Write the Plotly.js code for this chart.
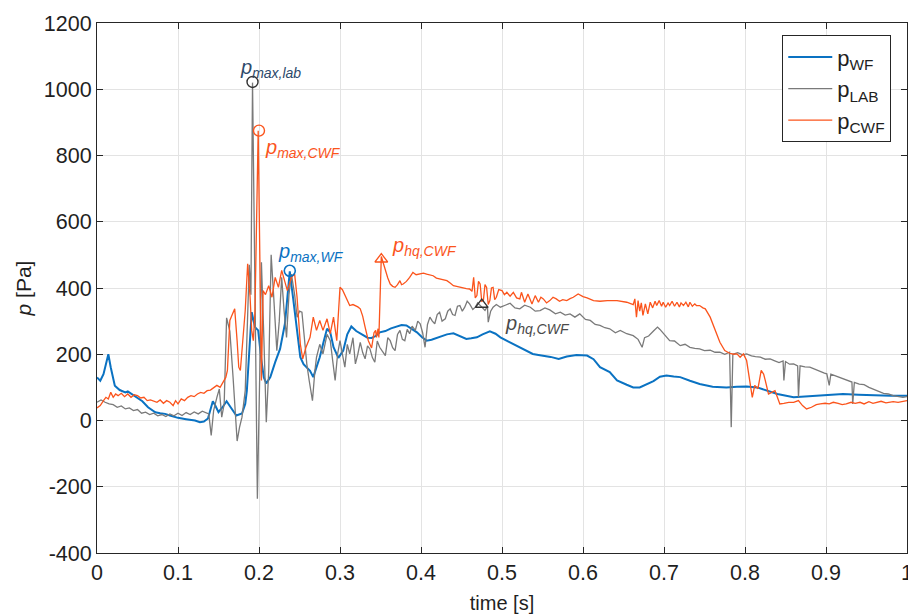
<!DOCTYPE html>
<html><head><meta charset="utf-8">
<script src="https://cdn.plot.ly/plotly-3.0.1.min.js"></script>
<style>html,body{margin:0;padding:0;background:#fff}#chart{width:908px;height:614px}</style>
</head><body><div id="chart"></div>
<script>
// ---- data (time in s, pressure in Pa) ----
const tWF = [0.000,0.004,0.008,0.011,0.014,0.017,0.022,0.028,0.035,0.038,0.044,0.050,0.056,0.063,0.068,0.072,0.078,0.084,0.090,0.100,0.110,0.121,0.127,0.132,0.137,0.140,0.143,0.146,0.150,0.155,0.160,0.165,0.172,0.179,0.183,0.185,0.188,0.191,0.195,0.199,0.203,0.206,0.209,0.214,0.220,0.226,0.232,0.235,0.238,0.242,0.247,0.251,0.255,0.259,0.263,0.267,0.271,0.275,0.280,0.284,0.288,0.292,0.298,0.304,0.309,0.314,0.320,0.325,0.329,0.334,0.339,0.344,0.349,0.356,0.363,0.370,0.376,0.382,0.388,0.395,0.401,0.407,0.413,0.419,0.425,0.432,0.440,0.448,0.456,0.462,0.469,0.476,0.485,0.492,0.498,0.508,0.518,0.528,0.538,0.545,0.553,0.560,0.570,0.580,0.592,0.605,0.613,0.621,0.633,0.642,0.654,0.662,0.670,0.678,0.687,0.695,0.703,0.712,0.720,0.732,0.744,0.760,0.777,0.790,0.802,0.815,0.827,0.840,0.860,0.872,0.884,0.900,0.921,0.940,0.963,0.980,1.000];
const pWF = [130,120,140,175,200,160,105,92,85,88,78,70,58,40,32,25,22,20,15,8,4,0,-5,-3,6,30,58,45,25,40,58,40,15,21,50,90,200,327,282,272,181,130,112,131,176,216,292,380,450,372,272,191,170,161,150,131,160,191,240,277,266,221,189,211,260,284,270,262,256,250,249,255,266,270,278,284,288,287,278,266,252,241,244,249,255,260,263,255,246,248,251,260,269,262,251,238,226,212,201,198,196,192,186,193,198,196,185,161,146,121,108,100,100,108,119,132,136,133,131,120,110,102,100,102,103,100,90,80,70,72,75,78,80,78,75,75,75];

const tLAB = [0.000,0.005,0.010,0.015,0.020,0.025,0.030,0.035,0.040,0.045,0.050,0.055,0.060,0.065,0.070,0.075,0.080,0.085,0.090,0.095,0.100,0.105,0.110,0.115,0.120,0.125,0.130,0.135,0.138,0.141,0.144,0.148,0.151,0.154,0.157,0.160,0.164,0.168,0.170,0.173,0.176,0.179,0.183,0.186,0.188,0.190,0.192,0.195,0.198,0.201,0.203,0.206,0.209,0.212,0.215,0.218,0.222,0.225,0.228,0.231,0.234,0.237,0.240,0.244,0.247,0.250,0.253,0.256,0.259,0.262,0.266,0.269,0.271,0.275,0.279,0.284,0.288,0.291,0.294,0.297,0.300,0.303,0.306,0.309,0.312,0.316,0.319,0.322,0.325,0.328,0.331,0.334,0.337,0.340,0.343,0.346,0.349,0.352,0.356,0.359,0.362,0.365,0.368,0.371,0.374,0.377,0.380,0.383,0.386,0.389,0.393,0.396,0.399,0.402,0.405,0.408,0.411,0.414,0.417,0.420,0.423,0.426,0.430,0.433,0.436,0.439,0.442,0.445,0.448,0.451,0.454,0.457,0.460,0.464,0.467,0.470,0.473,0.476,0.479,0.482,0.483,0.486,0.489,0.493,0.498,0.504,0.510,0.516,0.522,0.528,0.535,0.541,0.547,0.553,0.559,0.566,0.572,0.578,0.584,0.590,0.596,0.603,0.609,0.615,0.621,0.627,0.633,0.640,0.646,0.654,0.662,0.668,0.673,0.676,0.681,0.687,0.692,0.695,0.700,0.707,0.713,0.720,0.726,0.732,0.738,0.744,0.750,0.757,0.763,0.769,0.775,0.781,0.783,0.785,0.791,0.797,0.802,0.808,0.813,0.819,0.825,0.831,0.836,0.842,0.847,0.848,0.850,0.855,0.860,0.865,0.866,0.868,0.874,0.880,0.886,0.892,0.898,0.901,0.904,0.906,0.911,0.917,0.922,0.928,0.932,0.933,0.935,0.941,0.947,0.953,0.959,0.965,0.971,0.977,0.983,0.989,0.995,1.000];
const pLAB = [55,62,55,50,48,40,44,35,38,30,33,22,25,18,22,14,18,12,20,14,22,15,24,18,26,20,28,22,20,-45,30,70,95,10,50,310,270,130,40,-62,-20,10,90,300,470,380,1020,400,-236,150,478,250,-5,150,500,380,211,300,432,330,251,380,442,380,312,330,327,250,171,120,60,150,191,230,201,260,241,180,121,200,241,200,161,230,201,250,171,200,236,205,186,225,216,190,176,240,221,210,196,250,241,220,211,260,272,245,241,275,262,285,272,300,292,265,221,290,312,300,292,320,327,300,307,330,337,320,317,345,347,330,342,360,352,335,342,355,347,338,332,345,297,330,342,350,342,348,354,340,337,348,342,330,332,340,334,322,327,318,322,312,322,305,302,290,287,280,277,265,272,262,256,245,221,250,255,270,282,275,260,241,240,226,230,221,218,216,211,212,206,206,200,206,-20,200,205,198,201,195,193,191,185,186,181,175,180,121,178,170,171,165,70,165,162,161,155,148,143,141,106,140,135,131,125,120,116,50,115,110,108,100,95,88,82,80,75,72,70,72];

const tCWF = [0.000,0.004,0.008,0.011,0.014,0.017,0.020,0.023,0.026,0.030,0.034,0.038,0.042,0.046,0.050,0.054,0.058,0.062,0.066,0.070,0.074,0.078,0.082,0.086,0.090,0.094,0.097,0.100,0.104,0.108,0.112,0.116,0.120,0.124,0.128,0.132,0.136,0.140,0.144,0.148,0.152,0.156,0.159,0.161,0.164,0.167,0.170,0.173,0.175,0.177,0.180,0.183,0.186,0.189,0.191,0.193,0.195,0.197,0.199,0.201,0.203,0.205,0.208,0.212,0.216,0.220,0.224,0.228,0.232,0.235,0.240,0.244,0.247,0.251,0.254,0.258,0.263,0.267,0.271,0.275,0.279,0.284,0.288,0.292,0.296,0.300,0.303,0.306,0.309,0.312,0.316,0.319,0.322,0.325,0.328,0.331,0.335,0.339,0.342,0.344,0.345,0.347,0.348,0.351,0.354,0.356,0.359,0.362,0.365,0.368,0.371,0.374,0.376,0.378,0.382,0.386,0.390,0.394,0.399,0.403,0.407,0.411,0.415,0.419,0.423,0.428,0.432,0.436,0.440,0.444,0.448,0.452,0.456,0.460,0.463,0.465,0.467,0.469,0.471,0.473,0.475,0.477,0.479,0.481,0.483,0.485,0.487,0.489,0.491,0.493,0.496,0.500,0.503,0.506,0.510,0.514,0.518,0.522,0.524,0.528,0.532,0.537,0.541,0.545,0.548,0.551,0.555,0.559,0.563,0.567,0.571,0.575,0.580,0.584,0.588,0.594,0.600,0.605,0.613,0.621,0.630,0.642,0.654,0.662,0.664,0.666,0.668,0.670,0.672,0.674,0.677,0.680,0.683,0.686,0.689,0.691,0.694,0.697,0.699,0.702,0.705,0.707,0.710,0.713,0.716,0.719,0.721,0.724,0.727,0.730,0.732,0.735,0.738,0.740,0.744,0.748,0.751,0.757,0.763,0.769,0.775,0.781,0.786,0.790,0.794,0.798,0.802,0.806,0.809,0.812,0.816,0.820,0.823,0.825,0.829,0.833,0.837,0.840,0.843,0.848,0.854,0.860,0.866,0.871,0.876,0.882,0.888,0.893,0.899,0.904,0.909,0.915,0.920,0.925,0.931,0.936,0.942,0.947,0.953,0.958,0.963,0.968,0.974,0.979,0.983,0.989,0.995,1.000];
const pCWF = [38,45,60,70,65,85,70,80,75,82,72,80,70,78,75,68,70,60,62,58,55,62,52,60,55,45,60,50,65,60,70,75,72,80,85,82,90,92,100,106,100,116,130,151,302,320,337,240,161,151,240,332,473,372,272,241,330,600,875,500,121,392,380,407,372,432,402,453,422,392,432,442,372,231,186,221,251,312,272,302,272,307,262,312,241,402,395,377,360,347,350,347,343,337,315,282,241,219,265,272,251,277,251,495,470,453,430,412,405,402,410,422,410,412,420,432,447,440,442,445,442,440,437,430,427,425,422,415,407,405,402,400,398,397,390,432,370,377,420,412,360,362,410,402,350,362,400,402,365,372,395,392,380,387,375,387,370,367,387,357,382,352,377,357,372,367,355,362,372,367,360,365,362,368,372,382,374,370,362,360,362,362,357,350,367,312,362,330,355,317,352,322,357,340,360,347,362,345,357,342,355,347,360,345,357,343,355,347,357,343,357,345,352,347,347,340,337,312,272,236,211,203,200,201,191,201,181,111,70,106,96,151,140,121,80,85,90,70,50,52,55,55,60,45,35,40,48,50,52,50,55,52,48,50,55,52,55,50,57,52,55,58,53,56,57,55,58,60];

// marked points
const maxLabT = [0.192], maxLabV = [1022];
const maxCwfT = [0.200], maxCwfV = [875];
const maxWfT = [0.238], maxWfV = [452];
const hqCwfT = [0.351], hqCwfV = [487];
const hqLabT = [0.475], hqLabV = [350];

const seriesNames = ['p<sub>WF</sub>','p<sub>LAB</sub>','p<sub>CWF</sub>'];
const xTicks = [0,0.1,0.2,0.3,0.4,0.5,0.6,0.7,0.8,0.9,1];
const xTickText = ['0','0.1','0.2','0.3','0.4','0.5','0.6','0.7','0.8','0.9','1'];
const yTicks = [-400,-200,0,200,400,600,800,1000,1200];
const yTickText = ['-400','-200','0','200','400','600','800','1000','1200'];

const cBlue = '#0a72c2', cGray = '#7a7a7a', cOrange = '#fb541c';
const FONT = 'Liberation Sans, Arial, Helvetica, sans-serif';

const traces = [
  {x:tWF, y:pWF, mode:'lines', name:seriesNames[0], line:{color:cBlue, width:2}},
  {x:tLAB, y:pLAB, mode:'lines', name:seriesNames[1], line:{color:cGray, width:1.3}},
  {x:tCWF, y:pCWF, mode:'lines', name:seriesNames[2], line:{color:cOrange, width:1.3}},
  {x:maxLabT, y:maxLabV, mode:'markers', showlegend:false, marker:{symbol:'circle-open', size:11, color:'#333', line:{width:1.4}}},
  {x:maxCwfT, y:maxCwfV, mode:'markers', showlegend:false, marker:{symbol:'circle-open', size:11, color:cOrange, line:{width:1.4}}},
  {x:maxWfT, y:maxWfV, mode:'markers', showlegend:false, marker:{symbol:'circle-open', size:11, color:cBlue, line:{width:1.6}}},
  {x:hqCwfT, y:hqCwfV, mode:'markers', showlegend:false, marker:{symbol:'triangle-up-open', size:11, color:cOrange, line:{width:1.4}}},
  {x:hqLabT, y:hqLabV, mode:'markers', showlegend:false, marker:{symbol:'triangle-up-open', size:11, color:'#333', line:{width:1.4}}}
];

function ann(x, y, txt, color) {
  return {x:x, y:y, xref:'x', yref:'y', text:txt, showarrow:false, xanchor:'left', yanchor:'middle',
          font:{family:FONT, size:20, color:color}};
}

const layout = {
  width:908, height:614,
  margin:{l:97, r:1, t:23, b:61},
  paper_bgcolor:'#fff', plot_bgcolor:'#fff',
  font:{family:FONT, size:20, color:'#1f1f1f'},
  showlegend:true,
  legend:{x:0.846, y:0.977, xanchor:'left', yanchor:'top', bgcolor:'#fff', bordercolor:'#262626', borderwidth:1,
          font:{family:FONT, size:22, color:'#1f1f1f'}, tracegroupgap:0, itemwidth:44},
  xaxis:{range:[0,1], tickvals:xTicks, ticktext:xTickText, ticks:'inside', ticklen:6, tickcolor:'#262626',
         ticklabeloverflow:'allow',
         showline:true, mirror:'ticks', linecolor:'#262626', linewidth:1, showgrid:true, gridcolor:'#e3e3e3',
         zeroline:false, tickfont:{size:21.5}, title:{text:'time [s]', font:{size:20}, standoff:12}},
  yaxis:{range:[-400,1200], tickvals:yTicks, ticktext:yTickText, ticks:'inside', ticklen:6, tickcolor:'#262626',
         showline:true, mirror:'ticks', linecolor:'#262626', linewidth:1, showgrid:true, gridcolor:'#e3e3e3',
         zeroline:false, tickfont:{size:21.5}, title:{text:'<i>p</i> [Pa]', font:{size:21}, standoff:6}},
  annotations:[
    ann(0.174, 1063, '<i>p<sub>max,lab</sub></i>', '#2d4a6b'),
    ann(0.205, 820, '<i>p<sub>max,CWF</sub></i>', cOrange),
    ann(0.221, 507, '<i>p<sub>max,WF</sub></i>', cBlue),
    ann(0.362, 525, '<i>p<sub>hq,CWF</sub></i>', cOrange),
    ann(0.501, 290, '<i>p<sub>hq,CWF</sub></i>', '#4a4a4a')
  ]
};

Plotly.newPlot('chart', traces, layout, {staticPlot:true, displayModeBar:false});
</script>
</body></html>
